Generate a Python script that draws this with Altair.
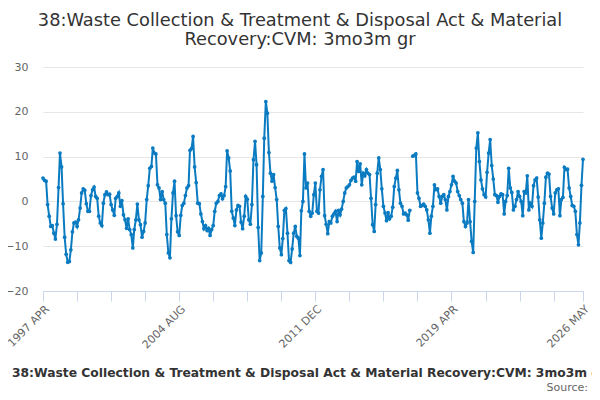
import altair as alt
import pandas as pd

TITLE = [
    "38:Waste Collection & Treatment & Disposal Act & Material",
    "Recovery:CVM: 3mo3m gr",
]
SERIES = "38:Waste Collection & Treatment & Disposal Act & Material Recovery:CVM: 3mo3m gr"
SOURCE = "Source:"
LINE_COLOR = "#0b7bc1"
FONT = "DejaVu Sans"

# monthly values from 1997 Apr, None = missing month (line breaks there)
START = "1997-04-01"
values = [
    5.2, 4.7, 4.5, -0.7, -3.3, -5.6, -5.4, -7.1, -8.4, -5.1,
    3.1, 10.8, 7.7, -0.5, -8.0, -11.8, -13.6, -13.4, -10.8, -6.8,
    -4.8, -4.6, -5.6, -4.1, -1.5, 1.9, 2.8, 2.5, -0.5, -2.2,
    -2.2, 1.3, 2.6, 3.2, 1.1, 0.7, -3.3, -4.8, -5.4, -0.4,
    1.5, 2.1, 1.5, 1.6, -0.7, -1.9, -3.1, 0.7, 1.1, 1.9,
    -1.1, 0.2, -3.0, -4.1, -6.0, -3.9, -6.3, -7.4, -10.4, -6.3,
    -4.1, -0.6, -4.1, -5.2, -8.0, -6.7, -4.8, 0.4, 3.5, 7.4,
    7.8, 11.9, 10.8, 10.6, 3.7, 3.0, 0.4, 2.2, 0.4, -0.4,
    -7.4, -11.5, -12.6, -3.9, 1.9, 4.5, -3.2, -6.8, -7.6, -3.1,
    -0.9, -0.4, 1.3, 3.0, 3.5, 11.4, 11.8, 14.5, 7.7, 4.2,
    -0.4, -0.5, -2.8, -4.5, -6.1, -5.4, -6.5, -6.0, -7.6, -6.3,
    -5.4, -2.2, -0.4, 0.0, 1.3, 1.7, 0.6, 1.3, 3.3, 11.3,
    9.7, 6.8, -2.2, -3.7, -5.4, -1.9, -0.9, -1.1, -4.6, -6.1,
    -3.3, 1.1, 0.5, -4.1, -5.1, -0.7, 9.3, 13.4, 8.2, -5.8,
    -13.2, -11.5, 1.1, 14.1, 22.3, 19.7, 10.9, 6.3, 4.5, 6.0,
    3.1, 0.4, -5.6, -10.4, -11.9, -8.3, -2.0, -1.6, -7.1, -13.2,
    -13.6, -10.6, -7.1, -5.6, -7.8, -8.2, -12.1, -2.1, 0.0, 10.6,
    3.0, 4.1, -2.2, -3.3, -2.6, 1.5, 4.1, -2.2, -2.6, 2.6,
    5.6, 7.1, -3.2, -5.1, -7.2, -4.5, -4.8, -3.3, -2.8, -2.2,
    -4.5, -2.0, -3.0, -1.7, 0.0, 1.9, 3.0, 3.3, 3.7, 4.7,
    5.2, 5.4, 4.5, 8.9, 6.7, 8.4, 3.7, 6.3, 5.7, 7.1,
    6.3, 6.0, 0.7, -5.2, -6.7, -0.7, 6.3, 9.7, 7.1, 2.8,
    -1.1, -2.6, -4.3, -2.5, -3.9, -3.3, -1.3, 3.3, 5.2, 6.9,
    2.6, -0.4, -1.1, -2.8, -2.6, -3.0, -4.2, -2.0, None, 10.1,
    10.3, 10.6, 1.9, 0.7, -1.1, -0.9, -0.6, -1.1, -1.9, -4.1,
    -7.1, -3.3, -1.1, 3.7, 2.6, 2.8, 1.1, -0.4, 1.1, 1.5,
    0.4, -1.9, 1.1, 2.2, 3.7, 5.6, 4.5, 4.1, 2.2, 1.3,
    0.4, -0.4, -4.5, -5.6, -4.8, 0.4, -4.5, -8.9, -11.4, 0.0,
    11.9, 15.3, 8.9, 4.8, 2.8, 1.5, 1.0, 6.5, 10.8, 13.8,
    8.0, 5.0, 1.5, 1.3, -0.2, 1.1, 1.7, 1.5, -2.8, 0.0,
    1.3, 7.4, 3.0, 2.0, -1.9, -1.1, 0.4, 2.2, 1.1, 0.0,
    -3.2, 2.2, 1.9, 5.7, -1.9, -0.4, -1.1, 3.5, 4.8, 5.2,
    1.0, -4.1, -8.2, -4.8, -0.4, 5.4, 6.3, 6.1, 1.1, -1.5,
    -2.8, 1.9, 2.6, 2.8, -3.2, 0.4, 0.9, 7.6, 7.1, 7.2,
    3.0, 1.1, -0.9, -1.1, -2.2, -7.4, -9.7, -4.8, 3.6, 9.4,
]

# x ticks every 22 months plus the last month; labels on every 4th
tick_months = [
    (1997, 4), (1999, 2), (2000, 12), (2002, 10), (2004, 8), (2006, 6),
    (2008, 4), (2010, 2), (2011, 12), (2013, 10), (2015, 8), (2017, 6),
    (2019, 4), (2021, 2), (2022, 12), (2024, 10), (2026, 5),
]
label_months = ["1997-04", "2004-08", "2011-12", "2019-04", "2026-05"]
y_ticks = [-20, -10, 0, 10, 20, 30]

df = pd.DataFrame({
    "date": pd.date_range(START, periods=len(values), freq="MS"),
    "value": values,
})
df["series"] = SERIES
df["seg"] = df["value"].isna().cumsum()
df = df.dropna()

label_expr = (
    "indexof({}, timeFormat(datum.value, '%Y-%m')) >= 0 ? "
    "upper(timeFormat(datum.value, '%Y %b')) : ''"
).format(str(label_months))

x_axis = alt.Axis(
    values=[alt.DateTime(year=y, month=m, date=1) for y, m in tick_months],
    labelExpr=label_expr,
    labelAngle=-45,
    labelAlign="right",
    labelBaseline="top",
    labelPadding=2,
    labelOverlap=False,
    labelFlush=False,
    labelColor="#666666",
    labelFont=FONT,
    labelFontSize=11,
    domainColor="#ccd6eb",
    tickColor="#ccd6eb",
    tickSize=10,
    grid=False,
    title=None,
)

y_axis = alt.Axis(
    values=y_ticks,
    domain=False,
    ticks=False,
    labelColor="#666666",
    labelFont=FONT,
    labelFontSize=11,
    labelPadding=15,
    gridColor="#e6e6e6",
    title=None,
)

legend = alt.Legend(
    orient="none",
    legendX=-54,
    legendY=297,
    title=None,
    padding=0,
    symbolType="stroke",
    symbolSize=256,
    symbolStrokeWidth=2,
    labelOffset=5,
    labelFont=FONT,
    labelFontSize=12.3,
    labelFontWeight="bold",
    labelColor="#333333",
    labelLimit=1000,
)

line = alt.Chart(df).mark_line(
    strokeWidth=2,
    point=alt.OverlayMarkDef(filled=True, size=14),
).encode(
    x=alt.X(
        "date:T",
        axis=x_axis,
        scale=alt.Scale(
            domain=[alt.DateTime(year=1997, month=4, date=1),
                    alt.DateTime(year=2026, month=5, date=1)],
            nice=False,
        ),
    ),
    y=alt.Y("value:Q", axis=y_axis, scale=alt.Scale(domain=[-20, 30], nice=False)),
    color=alt.Color("series:N", scale=alt.Scale(range=[LINE_COLOR]), legend=legend),
    detail="seg:N",
)

source = alt.Chart(pd.DataFrame({"t": [SOURCE]})).mark_text(
    align="right", baseline="alphabetic", font=FONT, fontSize=11, color="#666666",
).encode(
    x=alt.value(545),
    y=alt.value(324),
    text="t:N",
)

chart = alt.layer(line, source).properties(
    width=540,
    height=224,
    autosize=alt.AutoSizeParams(type="none"),
    padding={"left": 35, "top": 59, "right": 9, "bottom": 101},
    title=alt.Title(
        text=TITLE,
        font=FONT,
        fontSize=17.8,
        fontWeight="normal",
        color="#333333",
        anchor="middle",
        lineHeight=19,
        dx=-13,
        offset=12,
    ),
).configure_view(stroke="transparent")

chart.save("out.html", embed_options={"renderer": "svg", "actions": False})
